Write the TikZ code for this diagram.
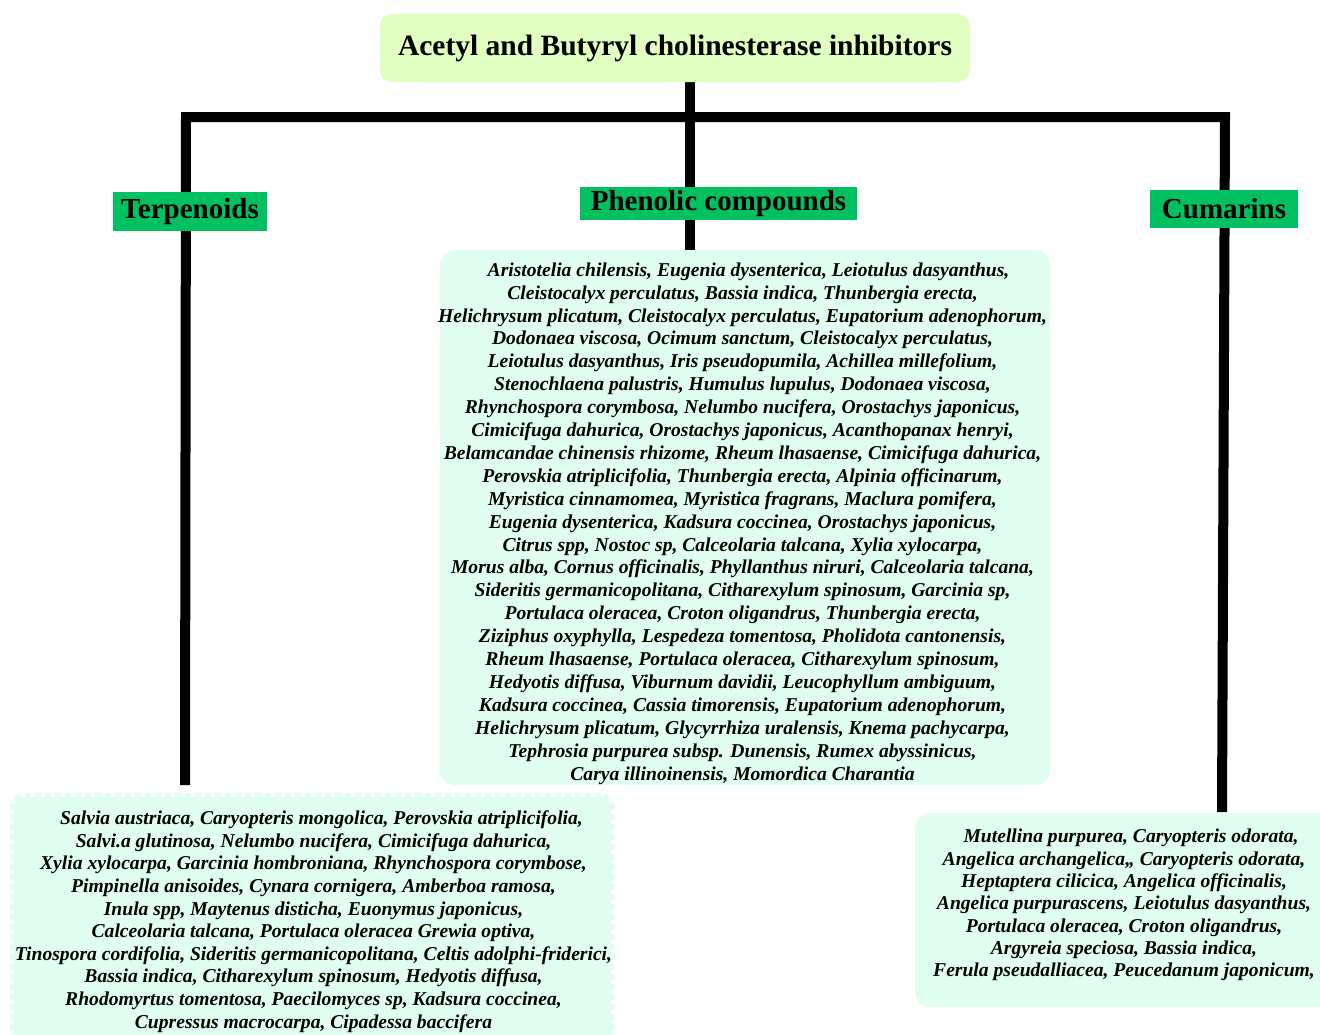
\documentclass[tikz,border=0pt]{standalone}
\usepackage{fontspec}
\setmainfont{Liberation Serif}
\usetikzlibrary{backgrounds}
\definecolor{titlefill}{RGB}{224,255,192}
\definecolor{labfill}{RGB}{0,192,96}
\definecolor{boxfill}{RGB}{224,255,240}
\begin{document}
\begin{tikzpicture}[x=1pt,y=-1pt,
  titlebox/.style={fill=titlefill, rounded corners=12pt, minimum width=590pt, minimum height=68pt, inner sep=0pt,
    font=\fontsize{29.5}{34}\selectfont\bfseries},
  catlabel/.style={fill=labfill, inner sep=0pt, font=\fontsize{29}{34}\selectfont\bfseries},
  listbox/.style={fill=boxfill, inner sep=0pt},
  listtext/.style={inner sep=0pt, align=center, font=\fontsize{19.6}{22.9}\selectfont\bfseries\itshape},
  conn/.style={line width=10pt, black}
]
\useasboundingbox (0,0) rectangle (1320,1034);

\node[titlebox] (title) at (675,48) {Acetyl and Butyryl cholinesterase inhibitors};

\node[catlabel, minimum width=154pt, minimum height=39pt] (terp) at (190,211.5) {Terpenoids};
\node[catlabel, minimum width=277pt, minimum height=33pt] (phen) at (718.5,203.5) {Phenolic compounds};
\node[catlabel, minimum width=148pt, minimum height=38pt] (cum) at (1224,209) {Cumarins};

\node[listbox, rounded corners=15pt, minimum width=610pt, minimum height=535pt] (mbox) at (745,517.5) {};
\node[listtext] (mtext) at (742.5,523.5) {%
\hspace*{12pt}Aristotelia chilensis, Eugenia dysenterica, Leiotulus dasyanthus,\\
Cleistocalyx perculatus, Bassia indica, Thunbergia erecta,\\
Helichrysum plicatum, Cleistocalyx perculatus, Eupatorium adenophorum,\\
Dodonaea viscosa, Ocimum sanctum, Cleistocalyx perculatus,\\
Leiotulus dasyanthus, Iris pseudopumila, Achillea millefolium,\\
Stenochlaena palustris, Humulus lupulus, Dodonaea viscosa,\\
Rhynchospora corymbosa, Nelumbo nucifera, Orostachys japonicus,\\
Cimicifuga dahurica, Orostachys japonicus, Acanthopanax henryi,\\
Belamcandae chinensis rhizome, Rheum lhasaense, Cimicifuga dahurica,\\
Perovskia atriplicifolia, Thunbergia erecta, Alpinia officinarum,\\
Myristica cinnamomea, Myristica fragrans, Maclura pomifera,\\
Eugenia dysenterica, Kadsura coccinea, Orostachys japonicus,\\
Citrus spp, Nostoc sp, Calceolaria talcana, Xylia xylocarpa,\\
Morus alba, Cornus officinalis, Phyllanthus niruri, Calceolaria talcana,\\
Sideritis germanicopolitana, Citharexylum spinosum, Garcinia sp,\\
Portulaca oleracea, Croton oligandrus, Thunbergia erecta,\\
Ziziphus oxyphylla, Lespedeza tomentosa, Pholidota cantonensis,\\
Rheum lhasaense, Portulaca oleracea, Citharexylum spinosum,\\
Hedyotis diffusa, Viburnum davidii, Leucophyllum ambiguum,\\
Kadsura coccinea, Cassia timorensis, Eupatorium adenophorum,\\
Helichrysum plicatum, Glycyrrhiza uralensis, Knema pachycarpa,\\
Tephrosia purpurea subsp. Dunensis, Rumex abyssinicus,\\
Carya illinoinensis, Momordica Charantia};

\node[listbox, rounded corners=10pt, minimum width=597pt, minimum height=246pt,
  draw=boxfill, line width=8pt, dash pattern=on 6pt off 4pt] (lbox) at (312.5,920) {};
\node[listtext, font=\fontsize{19.6}{22.6}\selectfont\bfseries\itshape] (ltext) at (313.5,921.5) {%
\hspace*{16pt}Salvia austriaca, Caryopteris mongolica, Perovskia atriplicifolia,\\
Salvi.a glutinosa, Nelumbo nucifera, Cimicifuga dahurica,\\
Xylia xylocarpa, Garcinia hombroniana, Rhynchospora corymbose,\\
Pimpinella anisoides, Cynara cornigera, Amberboa ramosa,\\
Inula spp, Maytenus disticha, Euonymus japonicus,\\
Calceolaria talcana, Portulaca oleracea Grewia optiva,\\
Tinospora cordifolia, Sideritis germanicopolitana, Celtis adolphi-friderici,\\
Bassia indica, Citharexylum spinosum, Hedyotis diffusa,\\
Rhodomyrtus tomentosa, Paecilomyces sp, Kadsura coccinea,\\
Cupressus macrocarpa, Cipadessa baccifera};

\node[listbox, rounded corners=15pt, minimum width=420pt, minimum height=194pt] (rbox) at (1125,910) {};
\node[listtext, font=\fontsize{19.6}{22.3}\selectfont\bfseries\itshape] (rtext) at (1124,905) {%
\hspace*{14pt}Mutellina purpurea, Caryopteris odorata,\\
Angelica archangelica,, Caryopteris odorata,\\
Heptaptera cilicica, Angelica officinalis,\\
Angelica purpurascens, Leiotulus dasyanthus,\\
Portulaca oleracea, Croton oligandrus,\\
Argyreia speciosa, Bassia indica,\\
Ferula pseudalliacea, Peucedanum japonicum,};

\coordinate (t0) at (690,78);
\coordinate (m0) at (690,255);
\coordinate (lc) at (186,117);
\coordinate (rc) at (1225,117);
\coordinate (lend) at (185,785);
\coordinate (rend) at (1222,812);

\begin{scope}[on background layer]
\draw[conn] (t0) -- (m0);
\draw[conn, line join=miter] (lend) -- (lc) -- (rc) -- (rend);
\end{scope}
\end{tikzpicture}
\end{document}
